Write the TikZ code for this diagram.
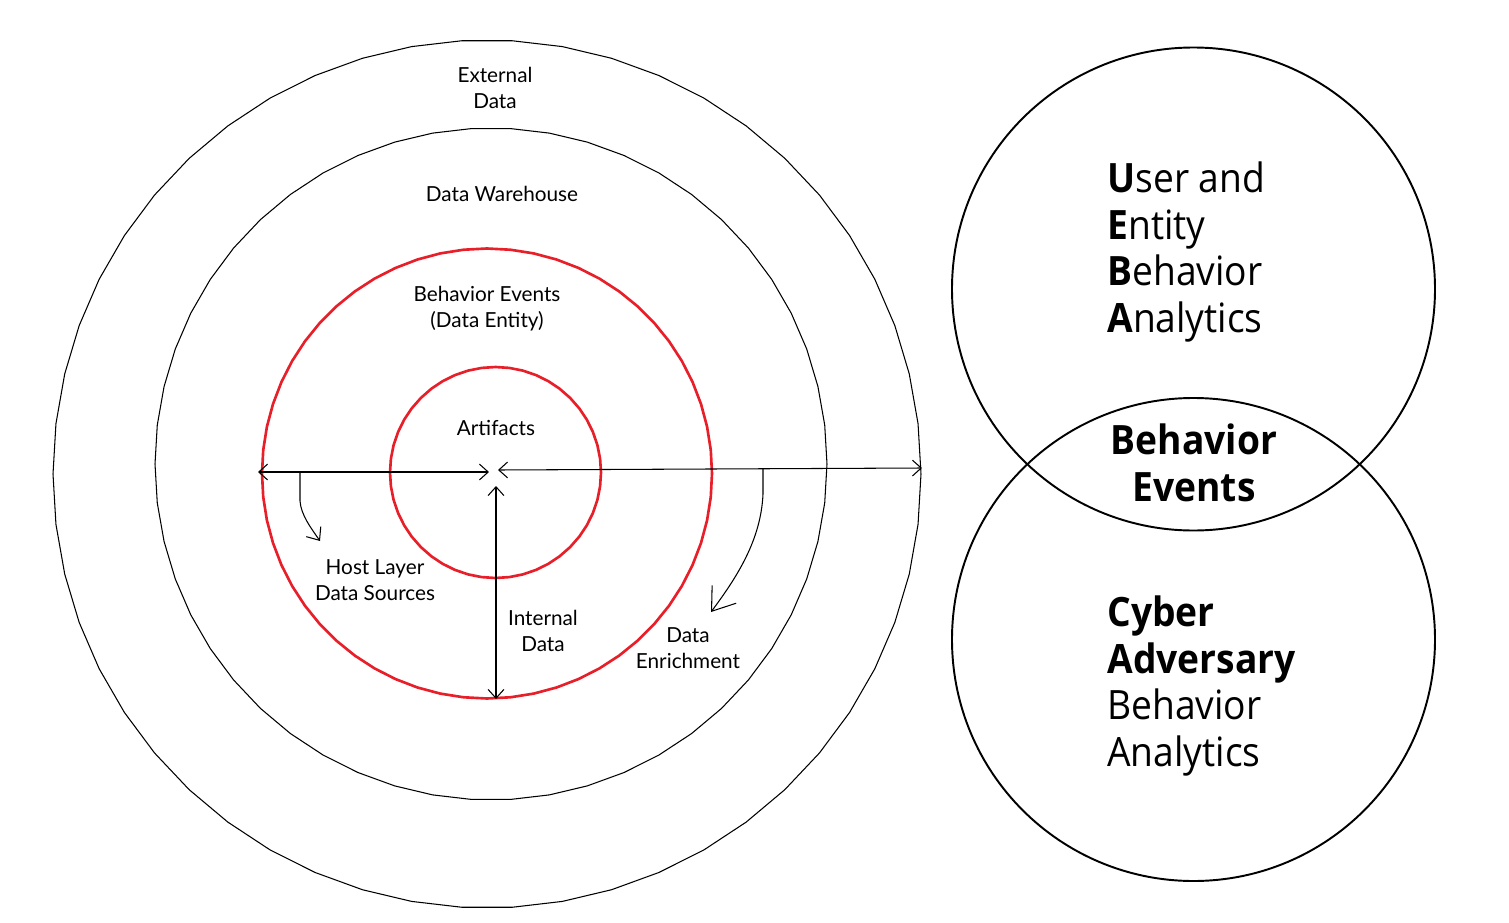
\documentclass[tikz,border=0pt]{standalone}
\usepackage{fontspec}
\setmainfont{Open Sans}[FakeStretch=0.92]
\newfontfamily\labfont{Lato}
\usetikzlibrary{arrows.meta}
\definecolor{ringred}{RGB}{232,30,40}
\tikzset{
  ring/.style={draw=black, line width=0.6pt, line join=round},
  redring/.style={draw=ringred, line width=1.5pt, line join=round},
  bigcirc/.style={draw=black, line width=1.1pt},
  lab/.style={font=\labfont\fontsize{11.8pt}{14.7pt}\selectfont, align=center, inner sep=0pt},
  bigtext/.style={font=\fontsize{23pt}{26.6pt}\selectfont, align=left, inner sep=0pt, anchor=west},
  dim/.style={line width=0.6pt, {Straight Barb[length=5pt,width=9pt]}-{Straight Barb[length=5pt,width=9pt]}},
  hand/.style={line width=0.6pt, -{Straight Barb[length=6pt,width=10pt]}},
  handbig/.style={line width=0.6pt, -{Straight Barb[length=12pt,width=17pt]}}
}
\begin{document}
\begin{tikzpicture}[x=0.02cm, y=-0.02cm]
\useasboundingbox (0,0) rectangle (1509,923);
% left rings (polygonal)
\draw[ring] plot[samples=55, domain=0:360, variable=\t] ({487+434*cos(\t)}, {474+434*sin(\t)}) -- cycle;
\draw[ring] plot[samples=55, domain=0:360, variable=\t] ({491+336*cos(\t)}, {464+336*sin(\t)}) -- cycle;
\draw[redring] plot[samples=61, domain=0:360, variable=\t] ({487+225*cos(\t)}, {473.5+225*sin(\t)}) -- cycle;
\draw[redring] plot[samples=49, domain=0:360, variable=\t] ({495.5+105.5*cos(\t)}, {472.5+105.5*sin(\t)}) -- cycle;
% labels
\node[lab] (ext) at (495,88) {External\\Data};
\node[lab] (dw) at (502,194) {Data Warehouse};
\node[lab] (be) at (487,309) {Behavior Events\\(Data Entity)};
\node[lab] (art) at (496,428) {Artifacts};
\node[lab] (host) at (375,580) {Host Layer\\Data Sources};
\node[lab] (int) at (543,631) {Internal\\Data};
\node[lab] (enr) at (688,648) {Data\\Enrichment};
% arrow end points
\coordinate (redL) at (258,472);
\coordinate (ctrA) at (489,472);
\coordinate (ctrB) at (498,470);
\coordinate (outR) at (922,468);
\coordinate (ctrC) at (496,486);
\coordinate (redB) at (496,699);
\coordinate (h1s) at (300,473);
\coordinate (h1e) at (320,541);
\coordinate (h2s) at (763,469);
\coordinate (h2e) at (711,612);
\draw[dim] (redL) -- (ctrA);
\draw[dim] (ctrB) -- (outR);
\draw[dim] (ctrC) -- (redB);
\draw[hand] (h1s) -- ++(0,28) .. controls (301,515) and (311,528) .. (h1e);
\draw[handbig] (h2s) -- ++(0,25) .. controls (761,540) and (737,577) .. (h2e);
% right circles
\node[bigcirc, circle, minimum size=483*0.02cm, inner sep=0pt] (ueba) at (1193.5,289) {};
\node[bigcirc, circle, minimum size=483*0.02cm, inner sep=0pt] (caba) at (1193.5,639.5) {};
\node[bigtext] (uebat) at (1107,252) {\textbf{U}ser and\\\textbf{E}ntity\\\textbf{B}ehavior\\\textbf{A}nalytics};
\node[bigtext, align=center, anchor=center, font=\fontsize{23pt}{26.6pt}\selectfont\bfseries] (bev) at (1194,463) {Behavior\\Events};
\node[bigtext] (cabat) at (1107,686) {\textbf{Cyber}\\\textbf{Adversary}\\Behavior\\Analytics};
\end{tikzpicture}
\end{document}
